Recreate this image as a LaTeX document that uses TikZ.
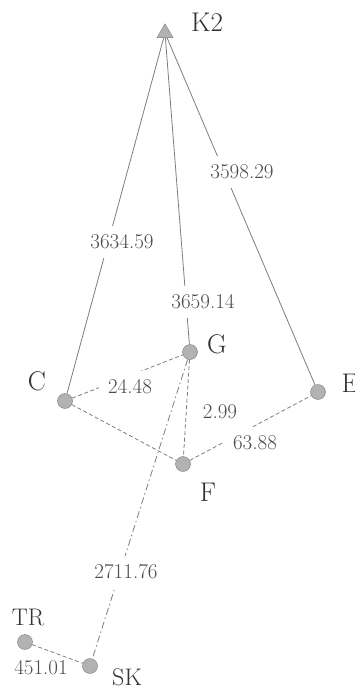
\documentclass[tikz,border=0pt]{standalone}
\usetikzlibrary{shapes.geometric,positioning}
\definecolor{net}{RGB}{125,125,125}
\definecolor{stn}{RGB}{178,178,178}
\definecolor{ink}{RGB}{75,75,75}
\definecolor{tag}{RGB}{50,50,50}

\begin{document}
\begin{tikzpicture}[x=1pt, y=-1pt,
    station/.style={circle, draw=net, fill=stn, minimum size=15pt, inner sep=0pt},
    peak/.style={regular polygon, regular polygon sides=3, draw=net, fill=stn,
                 minimum size=18.5pt, inner sep=0pt},
    stname/.style={font=\fontsize{27}{27}\selectfont, text=tag, inner sep=0pt},
    dist/.style={font=\fontsize{21}{21}\selectfont, text=ink, fill=white, inner sep=9pt},
    leg/.style={net, line width=0.8pt},
    link/.style={net, line width=0.8pt, dash pattern=on 4pt off 2.5pt},
    trav/.style={net, line width=0.8pt, dash pattern=on 7pt off 3pt on 1.5pt off 3pt}
]
\useasboundingbox (0,0) rectangle (355,690);

% Stations
\node[peak] (k2) at (165,33) {};
\node[station] (c) at (65,401) {};
\node[station] (g) at (190,352) {};
\node[station] (e) at (318,392) {};
\node[station] (f) at (183,464) {};
\node[station] (tr) at (25,642) {};
\node[station] (sk) at (90,666) {};

% Station names
\node[stname] (k2n) at (207,22) {K2};
\node[stname] (cn) at (37,381) {C};
\node[stname] (gn) at (217,344) {G};
\node[stname] (en) at (350,383) {E};
\node[stname] (fn) at (208,492) {F};
\node[stname, font=\fontsize{24}{24}\selectfont] (trn) at (28,617) {TR};
\node[stname, font=\fontsize{24}{24}\selectfont] (skn) at (127,677) {SK};

% Legs from the summit
\draw[leg] (k2) -- (c);
\draw[leg] (k2) -- (g);
\draw[leg] (k2) -- (e);

% Ties between stations
\draw[link] (c) -- (g);
\draw[link] (c) -- (f);
\draw[link] (g) -- (f);
\draw[link] (f) -- (e);
\draw[link] (tr) -- (sk);
\draw[trav] (g) -- (sk);

% Distances
\node[dist] (d1) at (122,242) {3634.59};
\node[dist] (d2) at (203,302) {3659.14};
\node[dist] (d3) at (242,172) {3598.29};
\node[dist] (d4) at (130,387) {24.48};
\node[dist] (d5) at (220,412) {2.99};
\node[dist] (d6) at (255,443) {63.88};
\node[dist] (d7) at (126,572) {2711.76};
\node[dist, fill=none] (d8) at (41,668) {451.01};
\end{tikzpicture}
\end{document}
